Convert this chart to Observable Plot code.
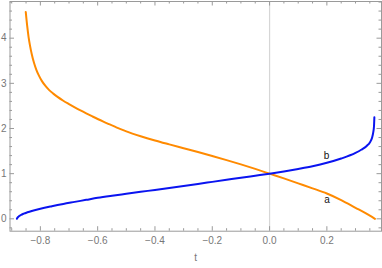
<!DOCTYPE html>
<html><head><meta charset="utf-8">
<script src="https://cdn.jsdelivr.net/npm/d3@7"></script>
<script src="https://cdn.jsdelivr.net/npm/@observablehq/plot@0.6"></script>
<style>body{margin:0;background:#fff}</style>
</head><body><div id="chart"></div>
<script>
// series a (orange)
const tA    = [-0.851, -0.846, -0.841, -0.836, -0.830, -0.822, -0.814, -0.805, -0.795, -0.783, -0.770, -0.755, -0.740, -0.720, -0.700, -0.680, -0.660, -0.640, -0.620, -0.600, -0.580, -0.560, -0.540, -0.520, -0.500, -0.450, -0.400, -0.350, -0.300, -0.250, -0.200, -0.150, -0.100, -0.050, 0.000, 0.050, 0.100, 0.150, 0.200, 0.250, 0.300, 0.335, 0.368];
const aVals = [ 4.58,   4.27,   4.02,   3.83,   3.645,  3.45,   3.30,   3.17,   3.055,  2.948,  2.855,  2.772,  2.70,   2.615,  2.54,   2.468,  2.40,   2.335,  2.272,  2.21,   2.151,  2.095,  2.04,   1.986,  1.937,  1.83,   1.735,  1.648,  1.563,  1.478,  1.39,   1.30,   1.205,  1.105,  1.00,  0.895, 0.785, 0.675, 0.56,  0.415, 0.245, 0.125, 0.00];
// series b (blue)
const tB    = [-0.882, -0.879, -0.875, -0.868, -0.858, -0.845, -0.830, -0.800, -0.760, -0.720, -0.680, -0.640, -0.600, -0.550, -0.500, -0.450, -0.400, -0.350, -0.300, -0.250, -0.200, -0.150, -0.100, -0.050, 0.000, 0.050, 0.100, 0.150, 0.200, 0.250, 0.300, 0.320, 0.340, 0.350, 0.358, 0.362, 0.3645, 0.3658];
const bVals = [ 0.00,   0.03,   0.055,  0.085,  0.115,  0.145,  0.175,  0.225,  0.28,   0.33,   0.375,  0.42,   0.465,  0.512,  0.555,  0.598,  0.64,   0.683,  0.727,  0.772,  0.818,  0.864,  0.91,   0.955,  1.00,  1.05,  1.105, 1.165, 1.24,  1.335, 1.46,  1.53,  1.62,  1.69,  1.80,  1.92,  2.05,   2.25];
const xTicks = [-0.8, -0.6, -0.4, -0.2, 0.0, 0.2];
const yTicks = [0, 1, 2, 3, 4];
const curveLabels = [{t: 0.201, v: 0.42, text: "a"}, {t: 0.199, v: 1.40, text: "b"}];
const axisTitle = "t";

const W = 382, H = 268, mL = 9.5, mR = 1, mT = 1, mB = 37.3;
const innerH = H - mT - mB, innerW = W - mL - mR;
const xDomain = [-0.906, 0.3907], yDomain = [-0.274, 4.812];

const close = (a, b) => Math.abs(a - b) < 1e-6;
const xMinor = d3.range(-18, 8).map(i => i * 0.05).filter(v => v > xDomain[0] && v < xDomain[1] && !xTicks.some(t => close(t, v)));
const yMinor = d3.range(-1, 25).map(i => i * 0.2).filter(v => v > yDomain[0] && v < yDomain[1] && !yTicks.some(t => close(t, v)));

const A = tA.map((t, i) => ({t, v: aVals[i]}));
const B = tB.map((t, i) => ({t, v: bVals[i]}));
const fc = "#9a9a9a";
const majL = 4.5, minL = 2.5;

const chart = Plot.plot({
  width: W, height: H,
  marginLeft: mL, marginRight: mR, marginTop: mT, marginBottom: mB,
  x: {domain: xDomain},
  y: {domain: yDomain},
  style: {fontFamily: "'Liberation Sans', Arial, sans-serif", fontSize: "10px", color: "#777", background: "#fff"},
  marks: [
    Plot.ruleX([0], {stroke: "#d6d6d6", strokeWidth: 1.2}),
    Plot.tickX(xTicks, {x: d => d, stroke: fc, insetTop: innerH - majL}),
    Plot.tickX(xTicks, {x: d => d, stroke: fc, insetBottom: innerH - majL}),
    Plot.tickX(xMinor, {x: d => d, stroke: fc, insetTop: innerH - minL}),
    Plot.tickX(xMinor, {x: d => d, stroke: fc, insetBottom: innerH - minL}),
    Plot.tickY(yTicks, {y: d => d, stroke: fc, insetRight: innerW - majL}),
    Plot.tickY(yTicks, {y: d => d, stroke: fc, insetLeft: innerW - majL}),
    Plot.tickY(yMinor, {y: d => d, stroke: fc, insetRight: innerW - minL}),
    Plot.tickY(yMinor, {y: d => d, stroke: fc, insetLeft: innerW - minL}),
    Plot.axisX({ticks: xTicks, tickSize: 0, tickPadding: 6, tickFormat: d3.format(".1f"), label: null, fill: "#777"}),
    Plot.axisY({ticks: yTicks, tickSize: 0, tickPadding: 3.5, tickFormat: d => String(d), label: null, fill: "#777"}),
    Plot.text([axisTitle], {frameAnchor: "bottom", dy: 30, text: d => d, fill: "#777", fontSize: 10}),
    Plot.line(A, {x: "t", y: "v", stroke: "#ff8a00", strokeWidth: 2, curve: "monotone-x"}),
    Plot.line(B, {x: "t", y: "v", stroke: "#0a14f0", strokeWidth: 2, curve: "monotone-x"}),
    Plot.text(curveLabels, {x: "t", y: "v", text: "text", fill: "#111", fontSize: 10}),
    Plot.frame({stroke: fc})
  ]
});
document.getElementById("chart").appendChild(chart);
</script>
</body></html>
